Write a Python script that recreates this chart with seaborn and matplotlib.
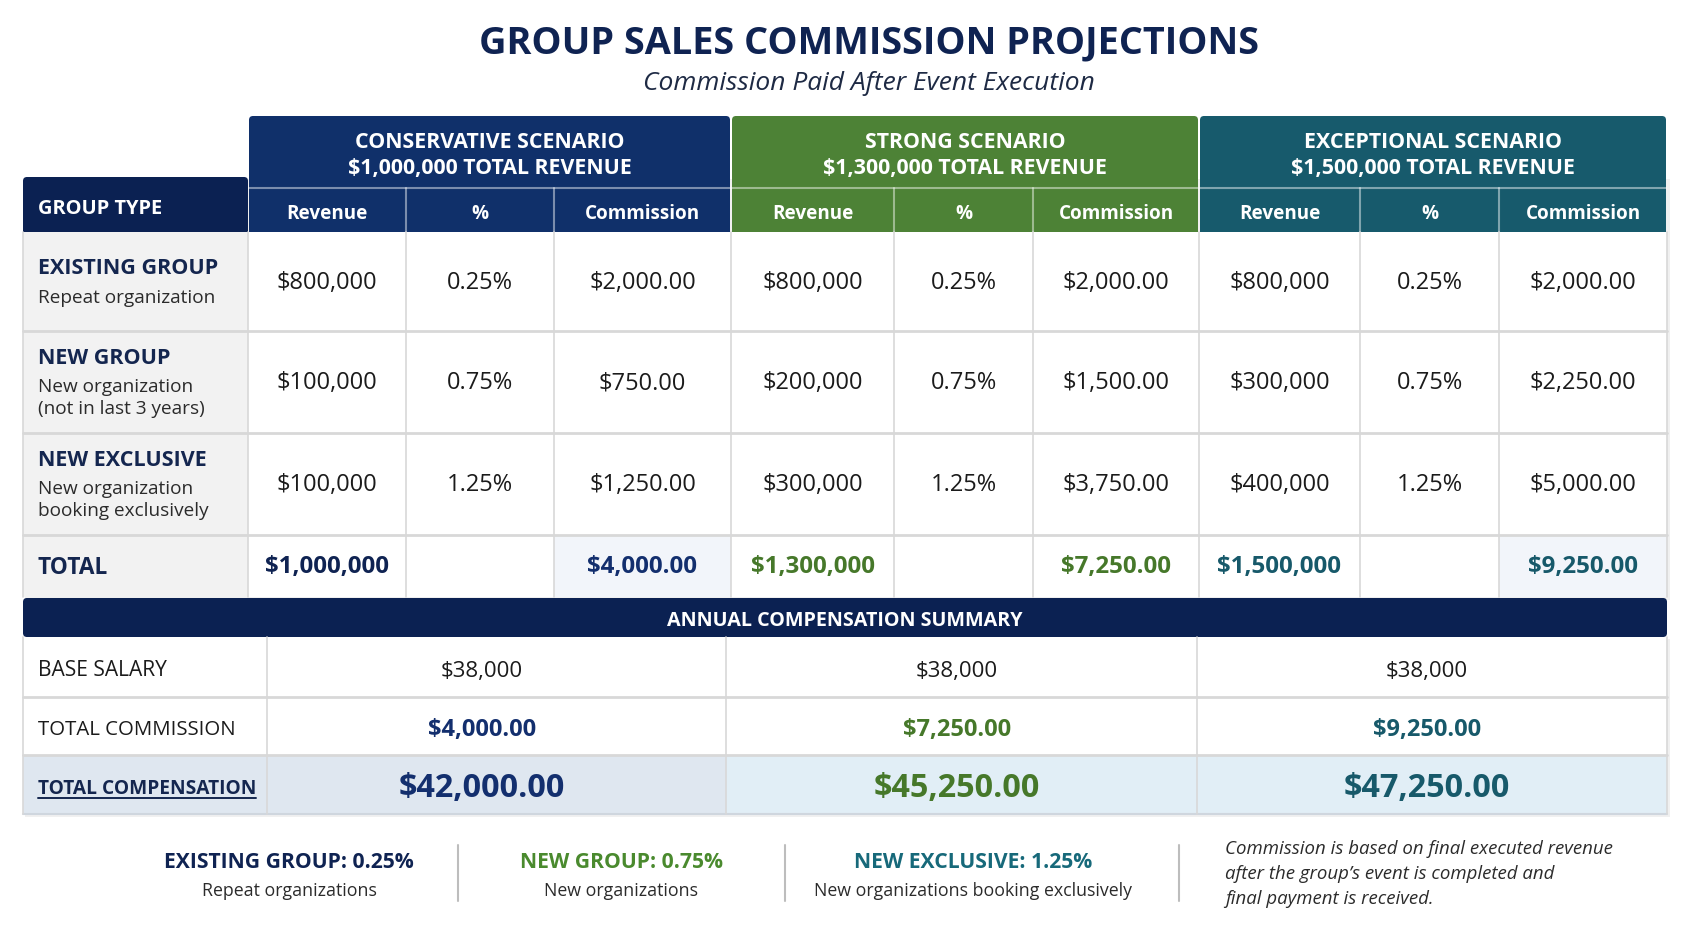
import seaborn as sns
import matplotlib.pyplot as plt
from matplotlib.patches import Rectangle, FancyBboxPatch

# ---- data ----
scenarios = ['CONSERVATIVE SCENARIO', 'STRONG SCENARIO', 'EXCEPTIONAL SCENARIO']
scenario_revenue = [1000000, 1300000, 1500000]
sub_headers = ['Revenue', '%', 'Commission']

group_titles = ['EXISTING GROUP', 'NEW GROUP', 'NEW EXCLUSIVE']
group_notes = [['Repeat organization'],
               ['New organization', '(not in last 3 years)'],
               ['New organization', 'booking exclusively']]
rates = [0.25, 0.75, 1.25]

revenue_conservative = [800000, 100000, 100000]
revenue_strong = [800000, 200000, 300000]
revenue_exceptional = [800000, 300000, 400000]
commission_conservative = [2000.00, 750.00, 1250.00]
commission_strong = [2000.00, 1500.00, 3750.00]
commission_exceptional = [2000.00, 2250.00, 5000.00]

total_revenue = [1000000, 1300000, 1500000]
total_commission = [4000.00, 7250.00, 9250.00]
base_salary = [38000, 38000, 38000]
total_compensation = [42000.00, 45250.00, 47250.00]

footer_titles = ['EXISTING GROUP: 0.25%', 'NEW GROUP: 0.75%', 'NEW EXCLUSIVE: 1.25%']
footer_notes = ['Repeat organizations', 'New organizations', 'New organizations booking exclusively']
footer_remark = ['Commission is based on final executed revenue',
                 "after the group\u2019s event is completed and",
                 'final payment is received.']

revenues = [revenue_conservative, revenue_strong, revenue_exceptional]
commissions = [commission_conservative, commission_strong, commission_exceptional]

# ---- style ----
sns.set_theme(style='white')
plt.rcParams['font.family'] = ['Open Sans', 'DejaVu Sans']

NAVY = '#0b2152'
HEAD = ['#10306a', '#4d8236', '#175a6c']
TEXT = ['#132f6e', '#46782a', '#17596a']
GRID = '#d8d8d8'
INK = '#1b1b1b'

W, H = 1693, 929
fig = plt.figure(figsize=(W / 100, H / 100), dpi=100)
ax = fig.add_axes([0, 0, 1, 1])
ax.set_xlim(0, W)
ax.set_ylim(H, 0)
ax.axis('off')


def box(x0, x1, y0, y1, fc, ec='none', lw=0, z=1):
    ax.add_patch(Rectangle((x0, y0), x1 - x0, y1 - y0, facecolor=fc,
                           edgecolor=ec, linewidth=lw, zorder=z))


def rbox(x0, x1, y0, y1, fc, z=1):
    ax.add_patch(FancyBboxPatch((x0, y0), x1 - x0, y1 - y0,
                                boxstyle='round,pad=0,rounding_size=4',
                                facecolor=fc, edgecolor='none', zorder=z))


# title
ax.text(869, 43, 'GROUP SALES COMMISSION PROJECTIONS', ha='center', va='center',
        fontsize=27.3, fontweight='bold', color='#0f2352')
ax.text(869, 83, 'Commission Paid After Event Execution', ha='center', va='center',
        fontsize=19, style='italic', color='#1e2a44')

# layout
left, lab_r = 23, 248
col_edges = [[248, 406, 554, 731], [731, 894, 1033, 1199], [1199, 1360, 1499, 1667]]
right = 1667
row_edges = [233, 332, 434, 536, 598]

# shadow
box(left + 2, right + 3, 180, 601, '#000000', z=0)
ax.patches[-1].set_alpha(0.06)

# header
rbox(left, lab_r, 178, 240, NAVY, z=2)
ax.text(38, 209, 'GROUP TYPE', ha='left', va='center', fontsize=14.4,
        fontweight='bold', color='white', zorder=5)
for k, edges in enumerate(col_edges):
    x0, x1 = edges[0], edges[-1]
    rbox(x0 + 1, x1 - 1, 117, 240, HEAD[k], z=2)
    ax.plot([x0 + 1, x1 - 1], [189, 189], color='white', alpha=0.45, lw=1.5, zorder=3)
    cx = (x0 + x1) / 2
    ax.text(cx, 142, scenarios[k], ha='center', va='center', fontsize=15.4,
            fontweight='bold', color='white', zorder=5)
    ax.text(cx, 168, f'${scenario_revenue[k]:,.0f} TOTAL REVENUE', ha='center',
            va='center', fontsize=15.4, fontweight='bold', color='white', zorder=5)
    for j in range(3):
        if j > 0:
            ax.plot([edges[j], edges[j]], [189, 233], color='white', alpha=0.45,
                    lw=1.5, zorder=3)
        ax.text((edges[j] + edges[j + 1]) / 2, 214, sub_headers[j], ha='center',
                va='center', fontsize=13.6, fontweight='bold', color='white', zorder=5)

# body
for i in range(4):
    y0, y1 = row_edges[i], row_edges[i + 1]
    box(left, lab_r, y0, y1, '#f2f2f2', z=2)
    box(lab_r, right, y0, y1, 'white', z=2)
for k, edges in enumerate(col_edges):
    if k != 1:
        box(edges[2], edges[3], row_edges[3], row_edges[4], '#f2f5fa', z=2)

for i in range(3):
    y0, y1 = row_edges[i], row_edges[i + 1]
    cy = (y0 + y1) / 2
    n = len(group_notes[i])
    ty = cy - 14 - 11 * (n - 1)
    ax.text(38, ty, group_titles[i], ha='left', va='center', fontsize=15.5,
            fontweight='bold', color='#14264f', zorder=5)
    for m, note in enumerate(group_notes[i]):
        ax.text(38, ty + 29 + 22 * m, note, ha='left', va='center', fontsize=13.7,
                color='#2b2b2b', zorder=5)
    for k, edges in enumerate(col_edges):
        vals = [f'${revenues[k][i]:,.0f}', f'{rates[i]:.2f}%', f'${commissions[k][i]:,.2f}']
        for j in range(3):
            ax.text((edges[j] + edges[j + 1]) / 2, cy, vals[j], ha='center',
                    va='center', fontsize=17, color=INK, zorder=5)

ty = (row_edges[3] + row_edges[4]) / 2
ax.text(38, ty + 1, 'TOTAL', ha='left', va='center', fontsize=16.3, fontweight='bold',
        color='#14264f', zorder=5)
for k, edges in enumerate(col_edges):
    c = '#0f2352' if k == 0 else TEXT[k]
    ax.text((edges[0] + edges[1]) / 2, ty, f'${total_revenue[k]:,.0f}', ha='center',
            va='center', fontsize=17.4, fontweight='bold', color=c, zorder=5)
    ax.text((edges[2] + edges[3]) / 2, ty, f'${total_commission[k]:,.2f}', ha='center',
            va='center', fontsize=17.4, fontweight='bold', color=TEXT[k], zorder=5)

# grid lines of the body
for y in row_edges[1:-1]:
    ax.plot([left, right], [y, y], color=GRID, lw=2, zorder=4)
xs = [lab_r] + [e for edges in col_edges for e in edges[1:]]
for x in xs[:-1]:
    ax.plot([x, x], [row_edges[0], row_edges[-1]], color=GRID, lw=1.2, zorder=4)
ax.plot([right, right], [row_edges[0], row_edges[-1]], color=GRID, lw=1.2, zorder=4)
ax.plot([left, left], [row_edges[0], row_edges[-1]], color=GRID, lw=1.2, zorder=4)

# annual summary
rbox(left, right, 599, 638, NAVY, z=3)
ax.text((left + right) / 2, 621, 'ANNUAL COMPENSATION SUMMARY', ha='center',
        va='center', fontsize=14.2, fontweight='bold', color='white', zorder=5)
sum_edges = [267, 726, 1197, 1667]
sum_rows = [638, 698, 756, 815]
sum_cx = [482, 957, 1427]
box(left + 2, right + 3, 640, 818, '#000000', z=0)
ax.patches[-1].set_alpha(0.06)
box(left, right, 638, 756, 'white', z=2)
box(left, sum_edges[1], 756, 815, '#dfe7f0', z=2)
box(sum_edges[1], right, 756, 815, '#e1eef6', z=2)

ax.text(38, 671, 'BASE SALARY', ha='left', va='center', fontsize=15.1, color=INK, zorder=5)
ax.text(38, 730, 'TOTAL COMMISSION', ha='left', va='center', fontsize=14.7, color=INK, zorder=5)
lab = ax.text(38, 789, 'TOTAL COMPENSATION', ha='left', va='center', fontsize=13.8,
              fontweight='bold', color='#14264f', zorder=5)
for k in range(3):
    ax.text(sum_cx[k], 671, f'${base_salary[k]:,.0f}', ha='center', va='center',
            fontsize=16, color=INK, zorder=5)
    ax.text(sum_cx[k], 730, f'${total_commission[k]:,.2f}', ha='center', va='center',
            fontsize=17, fontweight='bold', color=TEXT[k], zorder=5)
    ax.text(sum_cx[k], 789, f'${total_compensation[k]:,.2f}', ha='center', va='center',
            fontsize=23.3, fontweight='bold', color=TEXT[k], zorder=5)

for y in sum_rows[1:-1]:
    ax.plot([left, right], [y, y], color=GRID, lw=2, zorder=4)
ax.plot([left, right], [815, 815], color='#cfd6de', lw=1.5, zorder=4)
for x in [left] + sum_edges:
    ax.plot([x, x], [638, 815], color=GRID, lw=1.2, zorder=4)

# underline for TOTAL COMPENSATION
fig.canvas.draw()
bb = lab.get_window_extent().transformed(ax.transData.inverted())
ax.plot([bb.x0, bb.x1], [799, 799], color='#14264f', lw=1.4, zorder=5)

# footer
foot_cx = [289, 621, 973]
foot_col = ['#0f2352', '#4a8a2e', '#17697a']
for k in range(3):
    ax.text(foot_cx[k], 863, footer_titles[k], ha='center', va='center', fontsize=15.2,
            fontweight='bold', color=foot_col[k])
    ax.text(foot_cx[k], 891, footer_notes[k], ha='center', va='center', fontsize=12.8,
            color='#2b2b2b')
for x in [458, 785, 1179]:
    ax.plot([x, x], [846, 902], color='#bdbdbd', lw=1.5)
for m, line in enumerate(footer_remark):
    ax.text(1225, 849 + 25 * m, line, ha='left', va='center', fontsize=13.4,
            style='italic', color='#2b2b2b')

fig.savefig('out.png', dpi=100, facecolor='white')
plt.close(fig)
